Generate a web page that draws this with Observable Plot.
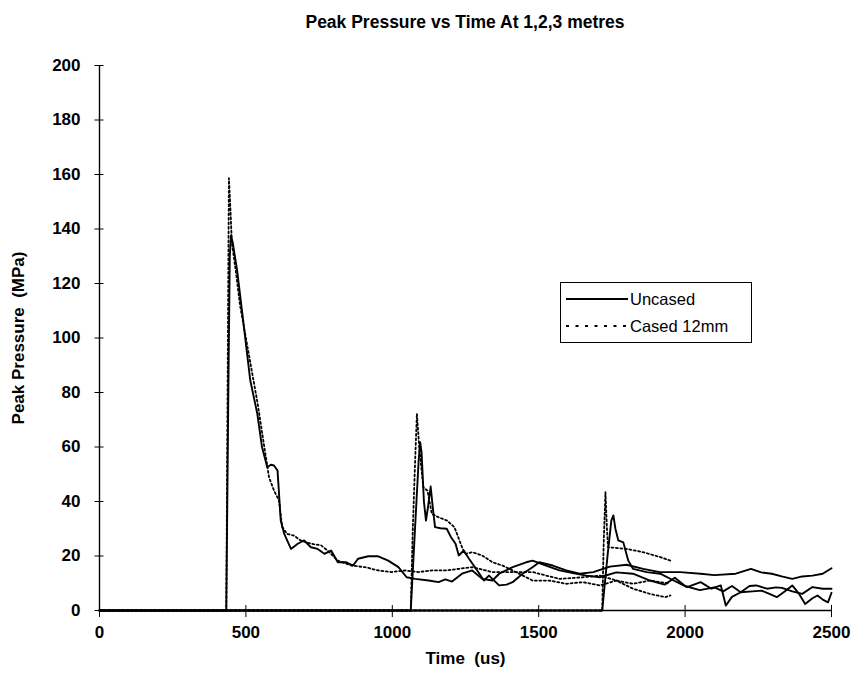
<!DOCTYPE html>
<html>
<head>
<meta charset="utf-8">
<script src="https://cdn.jsdelivr.net/npm/d3@7"></script>
<script src="https://cdn.jsdelivr.net/npm/@observablehq/plot@0.6"></script>
<style>
  body { margin: 0; background: #fff; }
  #wrap { position: relative; width: 856px; height: 682px; font-family: "Liberation Sans", Arial, sans-serif; color: #000; }
  #title { height: 44px; line-height: 44px; box-sizing: border-box; padding-left: 99px; padding-right: 25px; text-align: center; font-weight: bold; font-size: 17.5px; }
  svg text { white-space: pre; }
  #legend { position: absolute; left: 560px; top: 282px; width: 192px; height: 61px; box-sizing: border-box; border: 1px solid #000; background: #fff; font-size: 16.5px; }
  #legend .row { position: absolute; left: 5px; height: 20px; display: flex; align-items: center; white-space: nowrap; }
  #legend svg { display: block; margin-right: 2px; }
</style>
</head>
<body>
<div id="wrap">
  <div id="title"></div>
  <div id="chart"></div>
  <div id="legend"></div>
</div>
<script>
// ---- data (time in us, peak pressure in MPa) ----
const titleText = "Peak Pressure vs Time At 1,2,3 metres";
const xLabel = "Time  (us)";
const yLabel = "Peak Pressure  (MPa)";
const xTicks = [0, 500, 1000, 1500, 2000, 2500];
const yTicks = [0, 20, 40, 60, 80, 100, 120, 140, 160, 180, 200];
const legendLabels = ["Uncased", "Cased 12mm"];

const uncased1m = [[0,0],[433,0],[440,80],[445,130],[449,137.6],[455,135],[470,124.8],[490,107],[504,94.3],[515,84.4],[539,72.2],[555,60],[573,52.6],[585,53.5],[596,53.2],[608,51.4],[619,33],[631,28.1],[654,22.6],[677,24.5],[699,25.7],[722,23.2],[745,22.6],[768,20.8],[791,22],[814,17.7],[843,17.7],[866,16.5],[883,19],[918,19.9],[952,19.9],[986,18.3],[1021,15.9],[1049,12.2],[1078,11.6],[1124,11],[1158,10.4],[1181,11.4],[1204,10.6],[1238,13.5],[1273,14.7],[1307,11.6],[1342,11],[1365,13.5],[1411,15.9],[1457,17.7],[1479,18.3],[1525,16.5],[1571,14.7],[1617,13.7],[1663,12.8],[1709,12.2],[1765,14],[1822,13.5],[1880,11],[1930,9.5],[1965,12],[2000,9],[2050,7.5],[2100,8.5],[2130,7],[2160,9],[2190,6.7],[2220,9],[2243,9.2],[2280,8],[2310,8.5],[2331,8.3],[2366,7],[2400,6.1],[2435,8.6],[2470,8],[2500,8]];

const uncased2m = [[0,0],[1063,0],[1080,35],[1090,55],[1095,61.8],[1100,58],[1108,40],[1115,33],[1122,38],[1131,45.5],[1138,38],[1146,30.6],[1165,30.2],[1186,30],[1200,27],[1216,24.5],[1227,20.2],[1244,22],[1262,19],[1290,14.7],[1313,11],[1330,12.8],[1365,9.2],[1390,9.5],[1411,10.4],[1445,13.5],[1479,15.9],[1502,17.7],[1548,16.5],[1594,14.7],[1640,13.5],[1686,14.1],[1743,16.1],[1800,16.8],[1857,15.3],[1914,14.1],[1983,14.1],[2053,13.5],[2100,13],[2173,13.5],[2225,15.3],[2260,14],[2296,13.5],[2330,12.5],[2366,11.6],[2400,12.5],[2435,12.8],[2470,13.5],[2500,15.5]];

const uncased3m = [[0,0],[1717,0],[1735,20],[1748,33],[1755,34.9],[1762,30],[1772,25.7],[1789,25],[1806,18.3],[1822,15.3],[1869,14.1],[1915,13.5],[1961,11],[2007,8.6],[2053,10.4],[2090,8],[2122,9.2],[2139,1.8],[2160,5],[2190,6.7],[2230,7],[2261,7.3],[2290,6],[2313,4.9],[2340,7],[2366,9.2],[2390,6],[2410,2.4],[2435,4.5],[2452,5.5],[2470,4],[2488,3],[2500,6.5]];

const cased1m = [[0,0],[433,0],[438,90],[442,158.7],[446,150],[452,135],[465,125],[480,112],[500,100],[520,88],[540,76],[560,62],[579,48.9],[596,44],[613,40.4],[624,30.6],[641,28.1],[664,27.5],[687,25.7],[722,24.5],[757,23.9],[779,22],[814,18.3],[860,16.5],[906,15.9],[952,14.7],[998,14.1],[1044,14.7],[1090,14.1],[1136,14.7],[1182,14.7],[1228,15.3],[1273,15.9],[1342,14.1],[1388,14.1],[1479,14.1],[1571,11.6],[1651,12.2],[1709,12.8],[1765,11],[1822,9.8],[1880,11],[1940,10]];

const cased2m = [[0,0],[1063,0],[1070,30],[1078,55],[1084,72.2],[1092,60],[1106,45.2],[1120,44],[1135,35.5],[1158,34.2],[1187,33],[1212,30.6],[1225,27],[1238,23.2],[1250,20.8],[1273,21.4],[1307,20.2],[1342,17.7],[1376,16.5],[1433,13.5],[1479,11],[1536,11],[1594,9.8],[1651,10.4],[1709,9.2],[1765,11],[1822,8],[1880,6.1],[1932,4.9],[1950,5.5]];

const cased3m = [[0,0],[1717,0],[1722,25],[1728,43.4],[1733,30],[1737,23.2],[1760,23],[1800,22.6],[1857,21.4],[1915,19.6],[1950,18.3]];

// ---- build tables ----
const toRows = (arr, name) => arr.map(([t, p]) => ({t, p, series: name}));
const solidRows = [...toRows(uncased1m, "U1"), ...toRows(uncased2m, "U2"), ...toRows(uncased3m, "U3")];
const dottedRows = [...toRows(cased1m, "C1"), ...toRows(cased2m, "C2"), ...toRows(cased3m, "C3")];

const font = "'Liberation Sans', Arial, sans-serif";
const dotPattern = "2,2.5";
const intFmt = d3.format("d");

const chart = Plot.plot({
  width: 856,
  height: 638,
  marginLeft: 99,
  marginRight: 25,
  marginTop: 21,
  marginBottom: 72,
  style: {fontFamily: font, fontSize: "17px", color: "#000", background: "#fff", overflow: "visible"},
  x: {domain: [0, 2500], ticks: xTicks},
  y: {domain: [0, 200], ticks: yTicks},
  marks: [
    Plot.line(dottedRows, {x: "t", y: "p", z: "series", stroke: "#000", strokeWidth: 1.8, strokeDasharray: dotPattern}),
    Plot.line(solidRows, {x: "t", y: "p", z: "series", stroke: "#000", strokeWidth: 1.9}),
    Plot.ruleX([0], {stroke: "#000", strokeWidth: 1.4}),
    Plot.ruleY([0], {stroke: "#000", strokeWidth: 1.4}),
    Plot.axisY({ticks: yTicks, tickSize: 9, dx: 4.5, tickFormat: () => "", label: null}),
    Plot.axisY({ticks: yTicks, tickSize: 0, tickPadding: 19, fontSize: 17, fontWeight: "bold", tickFormat: intFmt, label: null}),
    Plot.axisX({ticks: xTicks, tickSize: 12, dy: -5, tickFormat: () => "", label: null}),
    Plot.axisX({ticks: xTicks, tickSize: 0, tickPadding: 15, fontSize: 17, fontWeight: "bold", tickFormat: intFmt, label: null}),
    Plot.text([yLabel], {text: d => d, frameAnchor: "left", textAnchor: "middle", rotate: -90, dx: -81, fontWeight: "bold", fontSize: 17}),
    Plot.text([xLabel], {text: d => d, frameAnchor: "bottom", textAnchor: "middle", dy: 53, fontWeight: "bold", fontSize: 17})
  ]
});
document.getElementById("chart").appendChild(chart);
document.getElementById("title").textContent = titleText;

// ---- legend ----
const legend = document.getElementById("legend");
const styles = [{dash: null}, {dash: "3,6.5"}];
legendLabels.forEach((lab, i) => {
  const row = document.createElement("div");
  row.className = "row";
  row.style.top = (i === 0 ? 6 : 33) + "px";
  const ns = "http://www.w3.org/2000/svg";
  const s = document.createElementNS(ns, "svg");
  s.setAttribute("width", 62); s.setAttribute("height", 10);
  const ln = document.createElementNS(ns, "line");
  ln.setAttribute("x1", 0); ln.setAttribute("x2", 62);
  ln.setAttribute("y1", 5); ln.setAttribute("y2", 5);
  ln.setAttribute("stroke", "#000"); ln.setAttribute("stroke-width", 1.8);
  if (styles[i].dash) ln.setAttribute("stroke-dasharray", styles[i].dash);
  s.appendChild(ln);
  const span = document.createElement("span");
  span.textContent = lab;
  row.appendChild(s); row.appendChild(span);
  legend.appendChild(row);
});
</script>
</body>
</html>
